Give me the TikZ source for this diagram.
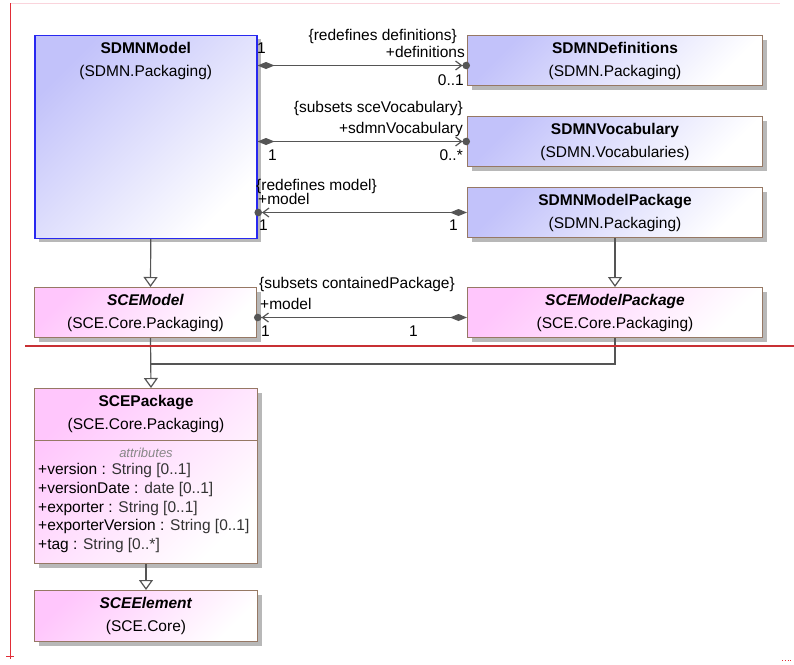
\documentclass[tikz,border=0pt]{standalone}
\usepackage{fontspec}
\setmainfont{Liberation Sans}
\usepackage{tikz}
\usetikzlibrary{arrows.meta,positioning,shadows,calc}
\usepackage{xcolor}
\definecolor{sdmnfill}{RGB}{194,194,250}
\definecolor{scefill}{RGB}{255,198,252}
\definecolor{boxline}{RGB}{150,120,100}
\definecolor{modelline}{RGB}{40,40,240}
\definecolor{linkgray}{RGB}{85,85,85}
\definecolor{framered}{RGB}{225,45,55}
\definecolor{framepink}{RGB}{250,212,220}
\definecolor{sepred}{RGB}{200,48,52}
\definecolor{attrgray}{RGB}{135,135,135}

\begin{document}
\begin{tikzpicture}[x=1pt, y=-1pt,
    every node/.style={font=\fontsize{15.5}{23}\selectfont, inner sep=0pt},
    classbox/.style={draw=boxline, line width=1pt, anchor=north west,
      general shadow={fill=black!28, shadow xshift=4pt, shadow yshift=-4pt}},
    sdmnbox/.style={classbox, left color=sdmnfill, right color=white, shading angle=45},
    scebox/.style={classbox, left color=scefill, right color=white, shading angle=45},
    classname/.style={align=center},
    link/.style={draw=linkgray, line width=1.2pt},
    comp/.style={link, {Diamond[length=17pt,width=7pt]}-{Straight Barb[length=6pt,width=9pt] Circle[length=7.5pt,sep=-3pt]}},
    gen/.style={link, -{Triangle[open,length=10pt,width=14pt,fill=white]}}]

  \fill[white] (0,0) rectangle (794,664);
  \useasboundingbox (0,0) rectangle (794,664);

  \node[sdmnbox, draw=modelline, line width=1.5pt, minimum width=222pt, minimum height=203pt] (model) at (34,34.5) {};
  \node[classname, below=7.5pt of model.north] (model-title) {\textbf{SDMNModel}\\(SDMN.Packaging)};
  \foreach \nm/\y/\cls/\pkg in {defs/35/SDMNDefinitions/SDMN.Packaging, voc/116/SDMNVocabulary/SDMN.Vocabularies, mp/187/SDMNModelPackage/SDMN.Packaging} {
    \node[sdmnbox, minimum width=295pt, minimum height=50pt] (\nm) at (467,\y) {};
    \node[classname, below=7.5pt of \nm.north] (\nm-title) {\textbf{\cls}\\(\pkg)};
  }

  \node[scebox, minimum width=222pt, minimum height=50pt] (scemodel) at (34,287) {};
  \node[classname, below=7.5pt of scemodel.north] (scemodel-title) {\textbf{\itshape SCEModel}\\(SCE.Core.Packaging)};
  \node[scebox, minimum width=295pt, minimum height=50pt] (scemp) at (467,287) {};
  \node[classname, below=7.5pt of scemp.north] (scemp-title) {\textbf{\itshape SCEModelPackage}\\(SCE.Core.Packaging)};

  \node[scebox, minimum width=223pt, minimum height=175pt] (scepkg) at (34,388) {};
  \node[classname, below=7.5pt of scepkg.north] (scepkg-title) {\textbf{SCEPackage}\\(SCE.Core.Packaging)};
  \draw[boxline, line width=1pt] (scepkg.west |- 0,440) -- (scepkg.east |- 0,440);
  \node[font=\fontsize{13}{13}\selectfont\itshape, text=attrgray, anchor=base] (attr-head) at (scepkg.north |- 0,457) {attributes};
  \foreach \nm/\ty [count=\i] in {version/String [0..1], versionDate/date [0..1], exporter/String [0..1], exporterVersion/String [0..1], tag/String [0..*]}
    \node[anchor=base west] (attr\i) at (38,455.7+18.8*\i) {+\nm\ : \textcolor{black!80}{\ty}};

  \node[scebox, minimum width=223pt, minimum height=51pt] (sceel) at (34,590) {};
  \node[classname, below=7.5pt of sceel.north] (sceel-title) {\textbf{\itshape SCEElement}\\(SCE.Core)};

  \draw[comp] ($(model.east |- defs.west)+(0,5)$) -- ($(defs.west)+(0,5)$);
  \draw[comp] (model.east |- voc.west) -- (voc.west);
  \draw[comp] (mp.west) -- (model.east |- mp.west);
  \draw[comp] ($(scemp.west)+(0,5)$) -- ($(scemodel.east |- scemp.west)+(0,5)$);

  \draw[gen] ($(model.south)+(5,0)$) -- ($(scemodel.north)+(5,0)$);
  \draw[gen] (mp.south) -- (scemp.north);
  \coordinate (merge) at ($(scemodel.south)+(5,26)$);
  \draw[gen] ($(scemodel.south)+(5,0)$) -- ($(scepkg.north)+(5,0)$);
  \draw[link] (scemp.south) |- (merge);
  \draw[gen] (scepkg.south) -- (sceel.north);

  \foreach \nm/\x/\y/\txt in {defs-con/457/40/{\{redefines definitions\}}, defs-role/465/57.5/+definitions, defs-mult/464/85.5/0..1, voc-con/463/112/{\{subsets sceVocabulary\}}, voc-role/463/133.5/+sdmnVocabulary, voc-mult/463/160.5/0..*, mp-mult/458/230.5/1, scemp-mult/418/336/1}
    \node[anchor=base east] (\nm) at (\x,\y) {\txt};
  \foreach \nm/\x/\y/\txt in {model-mult1/257/53.5/1, model-mult2/268/160/1, model-con/256/190/{\{redefines model\}}, model-role/258/204/+model, model-mult3/259/230.5/1, scemodel-con/259/288/{\{subsets containedPackage\}}, scemodel-role/260/309/+model, scemodel-mult/261/336/1}
    \node[anchor=base west] (\nm) at (\x,\y) {\txt};

  \draw[framepink, line width=1pt] (10.5,3) -- (780,3);
  \draw[framered, line width=0.8pt] (10.5,3) -- (10.5,659) (6,656) -- (14,656);
  \draw[framered, dotted, line width=0.8pt] (782,660) -- (793,660);
  \draw[sepred, line width=2.6pt] (25,346) -- (794,346);
\end{tikzpicture}
\end{document}
